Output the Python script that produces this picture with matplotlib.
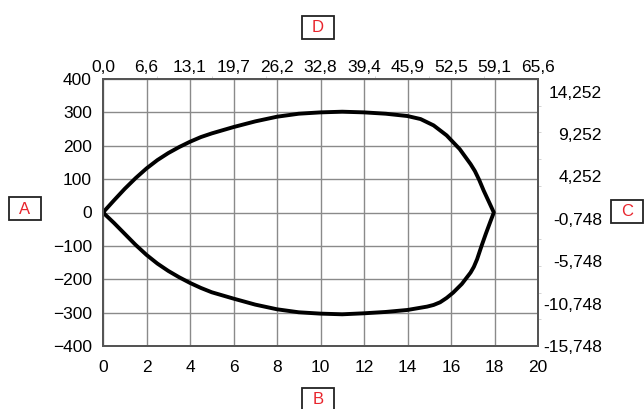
import matplotlib
matplotlib.use("Agg")
import matplotlib.pyplot as plt
from matplotlib.patches import Rectangle

plt.rcParams['font.family'] = ['Liberation Sans', 'DejaVu Sans']

# upper half of the outline (x in m, y in mm)
upper_x = [0, 0.5, 1, 1.5, 2, 2.5, 3, 3.5, 4, 4.5, 5, 6, 7, 8, 9, 10, 11, 12, 13, 14,
           14.6, 15.2, 15.8, 16.4, 16.9, 17.1, 17.3, 17.5, 17.75, 17.97]
upper_y = [0, 36, 71, 103, 132, 157, 178, 196, 212, 226, 237, 256, 273, 287, 296, 300,
           302, 300, 296, 289, 280, 261, 231, 190, 145, 124, 97, 66, 31, 0]

# lower half
lower_x = [0, 0.5, 1, 1.5, 2, 2.5, 3, 3.5, 4, 4.5, 5, 6, 7, 8, 9, 10, 11, 12, 13, 14,
           14.9, 15.2, 15.5, 15.8, 16.1, 16.5, 16.9, 17.05, 17.2, 17.4, 17.6, 17.8, 17.97]
lower_y = [0, -31, -64, -97, -127, -153, -175, -194, -211, -226, -239, -258, -276, -290,
           -299, -303, -305, -302, -298, -292, -282, -277, -269, -256, -240, -214, -180,
           -163, -140, -101, -64, -29, 0]

x_ticks = [0, 2, 4, 6, 8, 10, 12, 14, 16, 18, 20]
y_ticks = [-400, -300, -200, -100, 0, 100, 200, 300, 400]
m_to_ft = 3.28084
mm_to_in = 1 / 25.4

corner_labels = ['A', 'B', 'C', 'D']

fig = plt.figure(figsize=(6.44, 4.09), dpi=100)
ax = fig.add_axes([103 / 644, 1 - 346 / 409, 435 / 644, 267 / 409])

ax.plot(upper_x + lower_x[::-1], upper_y + lower_y[::-1], color='black', lw=2.8,
        solid_joinstyle='round', zorder=3)

ax.set_xlim(0, 20)
ax.set_ylim(-400, 400)
ax.set_xticks(x_ticks)
ax.set_yticks(y_ticks)
ax.grid(True, color='#8a8a8a', lw=1)
ax.tick_params(length=0, labelsize=12.5, colors='black')
ax.tick_params(axis='x', pad=10)
ax.tick_params(axis='y', pad=8)
for s in ax.spines.values():
    s.set_color('#555555')
    s.set_linewidth(1.4)

# secondary axes in feet / inches
top = ax.twiny()
top.set_xlim(0, 20 * m_to_ft)
top.set_xticks([t * m_to_ft for t in x_ticks])
top.set_xticklabels([('%.1f' % (t * m_to_ft)).replace('.', ',') for t in x_ticks])
top.set_xticks([k * 2.5 * m_to_ft for k in range(1, 8)], minor=True)
top.tick_params(axis='x', length=0, labelsize=12.5, pad=3)
top.tick_params(axis='x', which='minor', length=2.5, color='#cccccc')

right = ax.twinx()
lim = 400 * mm_to_in
right.set_ylim(-lim, lim)
r_ticks = [-lim + 5 * k for k in range(7)]
right.set_yticks(r_ticks)
right.set_yticklabels([('%.3f' % v).replace('.', ',') for v in r_ticks])
right.set_yticks([k * 80 * mm_to_in for k in range(-4, 5) if k != 0], minor=True)
right.tick_params(axis='y', length=0, labelsize=12.5, pad=46)
right.tick_params(axis='y', which='minor', length=2.5, color='#cccccc')
for lab in right.get_yticklabels():
    lab.set_horizontalalignment('right')
for a in (top, right):
    for s in a.spines.values():
        s.set_color('#555555')
        s.set_linewidth(1.4)


def label_box(cx, cy, txt):
    w, h = 32, 23
    fig.patches.append(Rectangle(((cx - w / 2) / 644, 1 - (cy + h / 2) / 409),
                                 w / 644, h / 409, transform=fig.transFigure,
                                 fc='white', ec='#222222', lw=1.3))
    fig.text(cx / 644, 1 - cy / 409, txt, color='#e8242c', fontsize=12,
             ha='center', va='center')


label_box(25, 209, corner_labels[0])
label_box(318, 399, corner_labels[1])
label_box(627, 211, corner_labels[2])
label_box(318, 27, corner_labels[3])

fig.savefig('out.png', dpi=100)
